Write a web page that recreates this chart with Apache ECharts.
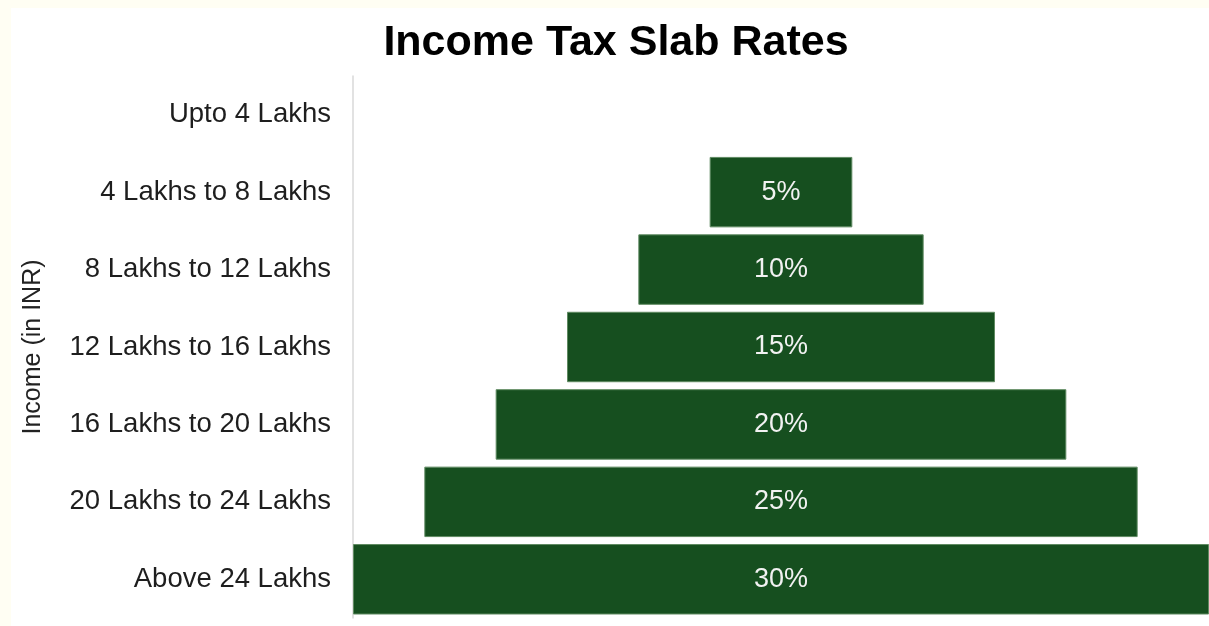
<!DOCTYPE html>
<html>
<head>
<meta charset="utf-8">
<script src="https://cdn.jsdelivr.net/npm/echarts@6/dist/echarts.min.js"></script>
<style>
html,body{margin:0;padding:0;background:#fffef3;width:1209px;height:626px;overflow:hidden;}
#chart{position:absolute;left:11px;top:8px;width:1198px;height:618px;background:#ffffff;}
</style>
</head>
<body>
<div id="chart"></div>
<script>
const categories = ["Upto 4 Lakhs","4 Lakhs to 8 Lakhs","8 Lakhs to 12 Lakhs","12 Lakhs to 16 Lakhs","16 Lakhs to 20 Lakhs","20 Lakhs to 24 Lakhs","Above 24 Lakhs"];
const rates = [0,5,10,15,20,25,30];
const maxRate = 30;
const offsets = rates.map(v => (maxRate - v) / 2);
const FONT = 'Liberation Sans, Arial, sans-serif';

const chart = echarts.init(document.getElementById('chart'), null, {renderer:'canvas'});
chart.setOption({
  backgroundColor:'#ffffff',
  animation:false,
  title:{
    text:'Income Tax Slab Rates',
    left:600, top:9, textAlign:'center',
    textStyle:{fontFamily:FONT,fontWeight:'bold',fontSize:43,color:'#000'}
  },
  grid:{left:342,right:0,top:68,bottom:8,containLabel:false,outerBoundsMode:'none'},
  xAxis:{type:'value',min:0,max:maxRate,show:false},
  yAxis:{
    type:'category',data:categories,inverse:true,
    name:'Income (in INR)',nameLocation:'middle',nameGap:307,
    nameTextStyle:{fontFamily:FONT,fontSize:25,color:'#222'},
    axisLine:{show:true,lineStyle:{color:'#d9d9d9',width:1.5}},
    axisTick:{show:false},
    axisLabel:{margin:22,fontFamily:FONT,fontSize:27.5,color:'#1e1e1e'},
    splitLine:{show:false}
  },
  series:[
    {type:'bar',stack:'t',data:offsets,itemStyle:{color:'transparent'},barCategoryGap:'9%',silent:true},
    {type:'bar',stack:'t',barCategoryGap:'9%',
     data:rates.map(v => v ? v : {value:v,itemStyle:{borderWidth:0}}),
     itemStyle:{color:'#164f1f',borderColor:'#5f8a61',borderWidth:1},
     label:{show:true,position:'inside',color:'#f2f2f2',fontFamily:FONT,fontSize:27,
       formatter:p => p.value ? p.value + '%' : ''}}
  ]
});
</script>
</body>
</html>
